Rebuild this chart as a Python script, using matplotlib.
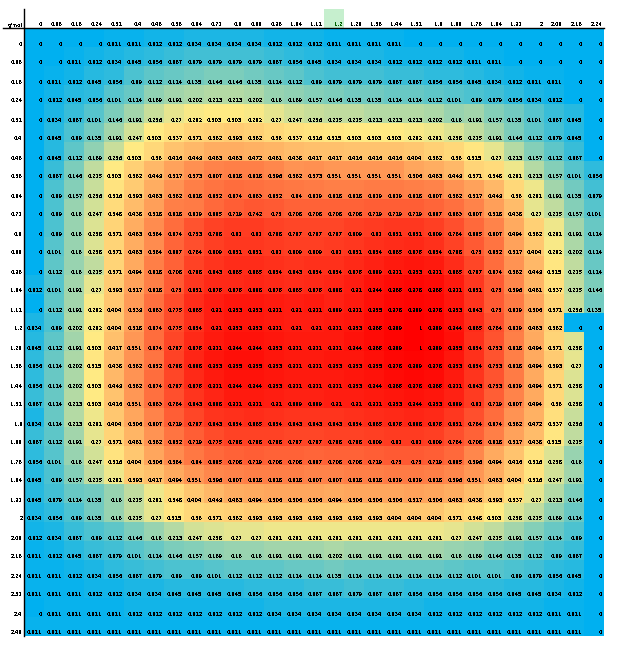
#Heatmap table of concentration values, Excel style colour scale
import matplotlib
matplotlib.use('Agg')
import numpy as np
import matplotlib.pyplot as plt
from matplotlib.colors import LinearSegmentedColormap, TwoSlopeNorm
from matplotlib.patches import Rectangle

plt.rcParams['font.family'] = 'DejaVu Sans'
plt.rcParams['font.weight'] = 'bold'
plt.rcParams['text.antialiased'] = False

corner_label = 'g/mol'
col_labels = ['0', '0.08', '0.16', '0.24', '0.32', '0.4', '0.48', '0.56', '0.64', '0.72', '0.8', '0.88', '0.96', '1.04', '1.12',
              '1.2', '1.28', '1.36', '1.44', '1.52', '1.6', '1.68', '1.76', '1.84', '1.92', '2', '2.08', '2.16', '2.24']
row_labels = ['0', '0.08', '0.16', '0.24', '0.32', '0.4', '0.48', '0.56', '0.64', '0.72', '0.8', '0.88', '0.96', '1.04', '1.12', '1.2',
              '1.28', '1.36', '1.44', '1.52', '1.6', '1.68', '1.76', '1.84', '1.92', '2', '2.08', '2.16', '2.24', '2.32', '2.4', '2.48']
selected_col = '1.2'

values = [
    [0, 0, 0, 0, .011, .011, .022, .022, .034, .034, .034, .034, .022, .022, .022, .011, .011, .011, .011, 0, 0, 0, 0, 0, 0, 0, 0, 0, 0],
    [0, 0, .011, .022, .034, .045, .056, .067, .079, .079, .079, .079, .067, .056, .045, .034, .034, .034, .022, .022, .022, .022, .011, .011, 0, 0, 0, 0, 0],
    [0, .011, .022, .045, .056, .09, .112, .124, .135, .146, .146, .135, .124, .112, .09, .079, .079, .079, .067, .067, .056, .056, .045, .034, .022, .011, .011, 0, 0],
    [0, .022, .045, .056, .101, .124, .169, .191, .202, .213, .213, .202, .18, .169, .157, .146, .135, .135, .124, .124, .112, .101, .09, .079, .056, .034, .022, 0, 0],
    [0, .034, .067, .101, .146, .191, .236, .27, .292, .303, .303, .292, .27, .247, .236, .225, .225, .213, .213, .213, .202, .18, .191, .157, .135, .101, .067, .045, 0],
    [0, .045, .09, .135, .191, .247, .303, .337, .371, .382, .393, .382, .36, .337, .326, .315, .303, .303, .303, .292, .281, .258, .225, .191, .146, .112, .079, .045, 0],
    [0, .045, .112, .169, .236, .303, .36, .416, .449, .483, .483, .472, .461, .438, .427, .427, .416, .416, .416, .404, .382, .36, .315, .27, .213, .157, .112, .067, 0],
    [0, .067, .146, .225, .303, .382, .449, .517, .573, .607, .618, .618, .596, .562, .573, .551, .551, .551, .551, .506, .483, .449, .371, .348, .281, .213, .157, .101, .056],
    [0, .09, .157, .236, .326, .393, .483, .562, .618, .652, .674, .663, .652, .64, .629, .618, .618, .629, .629, .618, .607, .562, .517, .449, .36, .281, .191, .135, .079],
    [0, .09, .18, .247, .348, .438, .528, .618, .629, .685, .719, .742, .73, .708, .708, .708, .708, .719, .719, .719, .697, .663, .607, .528, .438, .27, .225, .157, .101],
    [0, .09, .18, .258, .371, .483, .584, .674, .753, .798, .82, .82, .798, .787, .787, .787, .809, .82, .831, .831, .809, .764, .685, .607, .494, .382, .281, .191, .124],
    [0, .101, .18, .258, .371, .483, .584, .697, .764, .809, .831, .831, .82, .809, .809, .82, .831, .854, .865, .876, .854, .798, .73, .652, .517, .404, .292, .202, .124],
    [0, .112, .18, .225, .371, .494, .618, .708, .798, .843, .865, .865, .854, .843, .854, .854, .876, .899, .921, .933, .921, .865, .787, .674, .562, .449, .315, .225, .124],
    [.022, .101, .191, .27, .393, .517, .618, .73, .831, .876, .876, .888, .876, .865, .876, .888, .91, .944, .966, .978, .966, .921, .831, .73, .596, .461, .337, .225, .146],
    [0, .112, .191, .292, .404, .539, .663, .775, .865, .91, .933, .933, .921, .91, .921, .899, .921, .955, .978, .989, .978, .933, .843, .73, .629, .506, .371, .236, .135],
    [.034, .09, .202, .292, .404, .528, .674, .775, .854, .91, .933, .933, .921, .91, .91, .921, .933, .966, .989, 1, .989, .944, .865, .764, .629, .483, .382, 0, 0],
    [.045, .112, .191, .303, .427, .551, .674, .787, .876, .921, .944, .944, .933, .921, .921, .921, .944, .966, .989, 1, .989, .955, .854, .753, .618, .494, .371, .258, 0],
    [.056, .124, .202, .315, .438, .562, .652, .798, .888, .933, .955, .955, .933, .921, .921, .933, .933, .955, .978, .989, .978, .933, .854, .753, .618, .494, .393, .27, 0],
    [.056, .124, .202, .303, .449, .562, .674, .787, .876, .921, .944, .944, .933, .921, .921, .921, .933, .944, .966, .978, .966, .921, .843, .753, .629, .494, .371, .258, 0],
    [.067, .124, .213, .303, .416, .551, .663, .764, .843, .888, .921, .921, .91, .899, .899, .91, .91, .921, .933, .944, .933, .899, .82, .719, .607, .494, .36, .258, 0],
    [.034, .124, .213, .281, .404, .506, .607, .719, .787, .843, .854, .865, .854, .843, .843, .843, .854, .865, .876, .888, .876, .831, .764, .674, .562, .472, .337, .236, 0],
    [.067, .112, .191, .27, .371, .461, .562, .652, .719, .775, .798, .798, .798, .787, .787, .798, .798, .809, .82, .82, .809, .764, .708, .618, .517, .438, .315, .225, 0],
    [.056, .101, .18, .247, .326, .404, .506, .584, .64, .685, .708, .719, .708, .708, .697, .708, .708, .719, .73, .73, .719, .685, .596, .494, .416, .326, .258, .18, 0],
    [.045, .09, .157, .225, .281, .393, .427, .494, .551, .596, .607, .618, .618, .618, .607, .607, .618, .618, .629, .629, .618, .596, .551, .483, .404, .326, .247, .191, 0],
    [.045, .079, .124, .135, .18, .225, .281, .348, .404, .449, .483, .494, .506, .506, .506, .494, .506, .506, .506, .517, .506, .483, .438, .393, .337, .27, .213, .146, 0],
    [.034, .056, .09, .135, .18, .225, .27, .315, .36, .371, .382, .393, .393, .393, .393, .393, .393, .393, .404, .404, .404, .371, .348, .303, .258, .225, .169, .124, 0],
    [.022, .034, .067, .09, .112, .146, .18, .213, .247, .258, .27, .27, .281, .281, .281, .281, .281, .281, .281, .281, .281, .27, .247, .225, .191, .157, .124, .09, 0],
    [.011, .022, .045, .067, .079, .101, .124, .146, .157, .169, .18, .18, .191, .191, .191, .202, .191, .191, .191, .191, .191, .18, .169, .146, .135, .112, .09, .067, 0],
    [.011, .011, .022, .034, .056, .067, .079, .09, .09, .101, .112, .112, .112, .124, .124, .135, .124, .124, .124, .124, .124, .112, .101, .101, .09, .079, .056, .045, 0],
    [.011, .011, .011, .022, .022, .034, .034, .045, .045, .045, .045, .056, .056, .056, .067, .067, .079, .067, .067, .056, .056, .056, .056, .056, .045, .045, .034, .022, 0],
    [0, .011, .011, .011, .011, .022, .022, .022, .022, .022, .022, .022, .034, .034, .034, .034, .034, .034, .034, .034, .022, .022, .022, .022, .022, .022, .011, .011, 0],
    [.011, .011, .011, .011, .011, .011, .011, .011, .011, .011, .011, .011, .011, .011, .011, .011, .011, .011, .011, .011, .011, .011, .011, .011, .011, .011, .011, .011, 0],
]

values = np.array(values)
nrows, ncols = values.shape

W, H = 619, 651
fig = plt.figure(figsize=(W/100, H/100), dpi=100)
ax = fig.add_axes([24/W, 1-636/H, 580/W, 608/H])

cmap = LinearSegmentedColormap.from_list('excel3', ['#00B0F0', '#FFEB84', '#FF0000'])
norm = TwoSlopeNorm(vmin=0, vcenter=0.3, vmax=1)
ax.pcolormesh(np.arange(ncols+1), np.arange(nrows+1), values, cmap=cmap, norm=norm)
ax.set_xlim(0, ncols)
ax.set_ylim(nrows, 0)
ax.axis('off')

fs = 3.4
dx = 1.5/20
dy = 1.5/19

# cell texts, right aligned like a spreadsheet
for i in range(nrows):
    for j in range(ncols):
        ax.text(j+1-dx, i+1-dy, '%g' % values[i, j], ha='right', va='baseline', fontsize=fs, color='black')
    ax.text(-dx, i+1-dy, row_labels[i], ha='right', va='baseline', fontsize=fs, color='black')

# header row
ax.text(-dx, -dy, corner_label, ha='right', va='baseline', fontsize=fs, color='black')
for j, lab in enumerate(col_labels):
    if lab == selected_col:
        ax.add_patch(Rectangle((j, -1), 1, 1, facecolor='#C6EFCE', edgecolor='none', clip_on=False))
    ax.text(j+1-dx, -dy, lab, ha='right', va='baseline', fontsize=fs,
            color='#006100' if lab == selected_col else 'black')

ax.plot([-1.05, ncols], [0, 0], color='black', lw=1, clip_on=False)
ax.plot([0, 0], [-1, nrows], color='black', lw=1, clip_on=False)

plt.savefig('out.png', dpi=100)
